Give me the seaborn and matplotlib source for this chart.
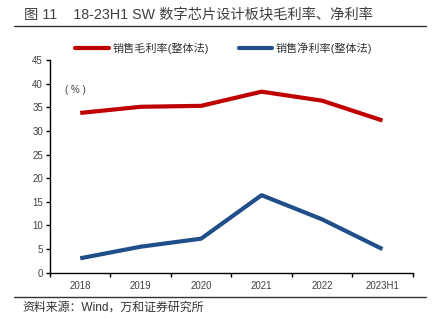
import matplotlib
matplotlib.use("Agg")
import matplotlib.pyplot as plt
import seaborn as sns
import pandas as pd
from matplotlib.lines import Line2D

# Data
years = ["2018", "2019", "2020", "2021", "2022", "2023H1"]
gross_margin = [33.8, 35.1, 35.3, 38.3, 36.4, 32.2]
net_margin = [3.05, 5.5, 7.2, 16.4, 11.3, 5.0]
series_names = ["销售毛利率(整体法)", "销售净利率(整体法)"]
y_ticks = [0, 5, 10, 15, 20, 25, 30, 35, 40, 45]

title_text = "图 11    18-23H1 SW 数字芯片设计板块毛利率、净利率"
source_text = "资料来源：Wind，万和证券研究所"
unit_text = "( % )"

colors = ["#C00000", "#1F4E89"]

sns.set_theme(style="white")
plt.rcParams["font.family"] = ["Liberation Sans", "Noto Sans CJK SC", "DejaVu Sans"]

df = pd.DataFrame({
    "year": years * 2,
    "pos": list(range(len(years))) * 2,
    "value": gross_margin + net_margin,
    "series": [series_names[0]] * len(years) + [series_names[1]] * len(years),
})

fig = plt.figure(figsize=(4.41, 3.26), dpi=100)
ax = fig.add_axes([50 / 441, 1 - 272.7 / 326, 362.7 / 441, 212.7 / 326])

sns.lineplot(data=df, x="pos", y="value", hue="series", palette=colors,
             linewidth=3.0, ax=ax, legend=False, solid_capstyle="butt")

ax.set_xlim(-0.5, len(years) - 0.5)
ax.set_ylim(0, 45)
ax.set_yticks(y_ticks)
ax.set_yticklabels([str(t) for t in y_ticks])
ax.set_xticks([i - 0.5 for i in range(len(years) + 1)])
ax.set_xticklabels([])
ax.set_xticks(range(len(years)), minor=True)
ax.set_xticklabels(years, minor=True)
ax.tick_params(axis="x", which="major", direction="out", length=3, width=1, color="black", bottom=True)
ax.tick_params(axis="x", which="minor", length=0, labelsize=7, labelcolor="#404040", pad=6)
ax.tick_params(axis="y", direction="out", length=3, width=1, color="black", left=True,
               labelsize=7, labelcolor="#404040", pad=2)
ax.set_xlabel("")
ax.set_ylabel("")
for s in ["top", "right"]:
    ax.spines[s].set_visible(False)
for s in ["left", "bottom"]:
    ax.spines[s].set_color("black")
    ax.spines[s].set_linewidth(1)

ax.text(0.04, 0.86, unit_text, transform=ax.transAxes, fontsize=7, color="#404040",
        ha="left", va="center")

# Legend
handles = [Line2D([0], [0], color=c, linewidth=3.0) for c in colors]
fig.legend(handles, series_names, loc="center", bbox_to_anchor=(0.507, 1 - 48 / 326),
           ncol=2, frameon=False, fontsize=8, handlelength=3.0, handletextpad=0.3,
           columnspacing=2.7, labelcolor="#333333")

# Title and rules
fig.text(24 / 441, 1 - 15 / 326, title_text, fontsize=10.3, color="#404040",
         ha="left", va="center")
fig.add_artist(Line2D([14 / 441, 426 / 441], [1 - 26 / 326, 1 - 26 / 326],
                      color="#333333", linewidth=1))
fig.add_artist(Line2D([14 / 441, 426 / 441], [1 - 297 / 326, 1 - 297 / 326],
                      color="#333333", linewidth=1))
fig.text(22 / 441, 1 - 308 / 326, source_text, fontsize=8.6, color="#333333",
         ha="left", va="center")

fig.savefig("out.png", dpi=100)
